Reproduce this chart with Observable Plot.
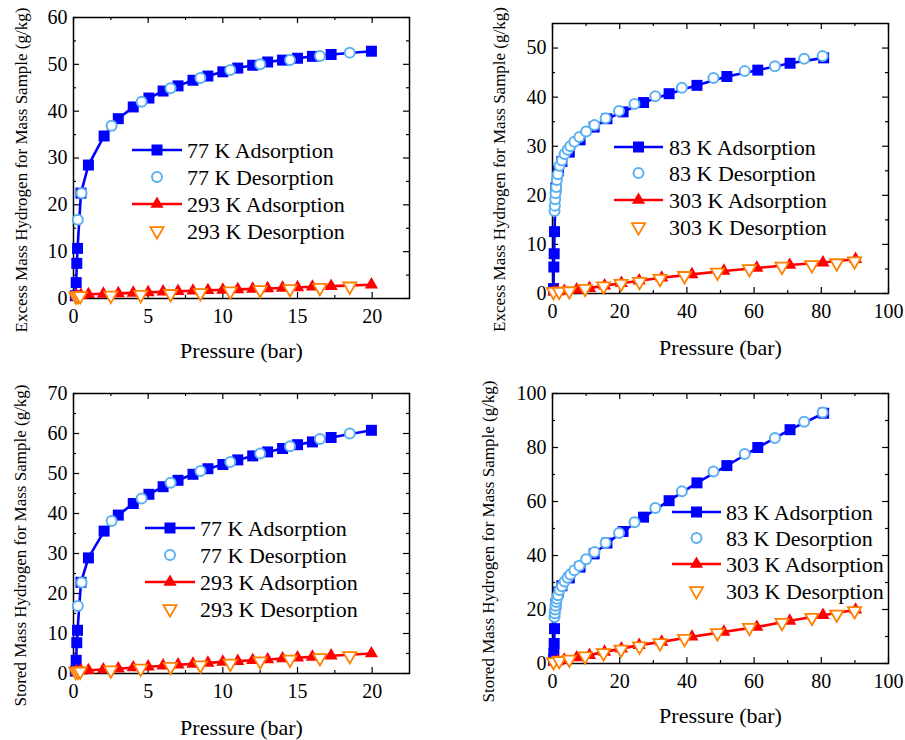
<!DOCTYPE html>
<html><head><meta charset="utf-8">
<script src="https://cdn.jsdelivr.net/npm/d3@7"></script>
<script src="https://cdn.jsdelivr.net/npm/@observablehq/plot@0.6"></script>
<style>
body{margin:0;background:#fff;}
#wrap{position:relative;width:905px;height:740px;font-family:"Liberation Serif",serif;}
.panel{position:absolute;}
#wrap svg text{font-family:"Liberation Serif",serif !important;}
</style></head><body><div id="wrap"></div>
<script>
// ---------- data ----------
// 77 K / 293 K sample (left column)
const p77Ads = [0.12, 0.18, 0.22, 0.27, 0.5, 1.0, 2.05, 3.0, 4.0, 5.05, 6.0, 7.0, 8.0, 9.0, 10.0, 11.0, 12.0, 13.0, 14.0, 15.0, 16.0, 17.25, 19.95];
const excess77Ads = [0.6, 3.4, 7.5, 10.7, 22.5, 28.5, 34.7, 38.4, 40.9, 42.8, 44.3, 45.4, 46.6, 47.5, 48.4, 49.2, 49.8, 50.5, 50.9, 51.3, 51.7, 52.1, 52.8];
const stored77Ads = [0.6, 3.3, 7.7, 10.8, 22.8, 28.9, 35.6, 39.6, 42.5, 44.8, 46.7, 48.3, 49.8, 51.2, 52.25, 53.4, 54.4, 55.4, 56.25, 57.2, 57.9, 59.0, 60.8];
const p77Des = [0.29, 0.54, 2.55, 4.56, 6.5, 8.5, 10.5, 12.5, 14.5, 16.5, 18.5];
const excess77Des = [16.8, 22.5, 36.9, 42.0, 44.9, 47.1, 48.8, 50.0, 50.9, 51.8, 52.5];
const stored77Des = [16.9, 22.75, 38.1, 43.75, 47.7, 50.6, 52.9, 55.0, 56.8, 58.6, 60.0];
const p293Ads = [0.2, 0.5, 1.0, 2.0, 3.0, 4.0, 5.0, 6.0, 7.0, 8.0, 9.0, 10.0, 11.0, 12.0, 13.0, 14.0, 15.0, 16.0, 17.25, 19.95];
const excess293Ads = [0.6, 0.7, 0.9, 1.0, 1.1, 1.2, 1.3, 1.45, 1.55, 1.65, 1.75, 1.85, 1.95, 2.05, 2.15, 2.25, 2.35, 2.5, 2.65, 2.95];
const stored293Ads = [0.6, 0.7, 0.8, 1.0, 1.2, 1.5, 1.7, 1.95, 2.2, 2.4, 2.65, 2.9, 3.1, 3.3, 3.5, 3.75, 3.95, 4.15, 4.45, 5.0];
const p293Des = [0.15, 0.3, 0.45, 2.5, 4.5, 6.5, 8.5, 10.5, 12.5, 14.5, 16.5, 18.5];
const excess293Des = [0.5, 0.5, 0.55, 0.65, 0.8, 1.0, 1.2, 1.55, 1.85, 2.05, 2.3, 2.6];
const stored293Des = [0.5, 0.5, 0.55, 0.83, 1.25, 1.7, 2.1, 2.5, 3.1, 3.5, 3.9, 4.4];

// 83 K / 303 K sample (right column)
const p83Ads = [0.3, 0.4, 0.5, 0.6, 1.0, 1.8, 2.8, 5.0, 8.2, 12.4, 16.2, 21.0, 27.1, 34.7, 43.0, 51.9, 61.1, 70.7, 80.7];
const excess83Ads = [1.0, 5.4, 8.1, 12.6, 21.5, 25.0, 26.9, 28.8, 31.3, 33.9, 35.6, 37.0, 38.9, 40.7, 42.4, 44.2, 45.5, 46.9, 48.0];
const stored83Ads = [1.5, 3.7, 7.4, 12.9, 22.0, 26.5, 28.8, 31.7, 35.7, 40.6, 44.6, 48.9, 54.2, 60.3, 66.9, 73.3, 80.0, 86.6, 92.7];
const p83Des = [0.6, 0.7, 0.8, 0.9, 1.1, 1.3, 1.6, 2.1, 2.8, 3.6, 4.5, 5.3, 6.5, 8.0, 10.0, 12.5, 15.8, 19.8, 24.4, 30.6, 38.5, 47.9, 57.2, 66.2, 74.9, 80.4];
const excess83Des = [16.8, 17.9, 19.2, 20.4, 21.7, 23.1, 24.3, 26.0, 27.1, 28.4, 29.3, 30.0, 30.9, 31.9, 33.0, 34.3, 35.7, 37.2, 38.6, 40.2, 41.9, 43.9, 45.3, 46.3, 47.8, 48.4];
const stored83Des = [17.2, 18.6, 20.0, 21.4, 22.8, 24.0, 25.3, 27.2, 28.6, 30.4, 31.8, 33.0, 34.5, 36.2, 38.6, 41.3, 44.7, 48.3, 52.3, 57.6, 63.8, 71.1, 77.6, 83.5, 89.5, 93.0];
const p303Ads = [0.5, 1.5, 3.5, 7.2, 11.0, 15.5, 20.5, 25.8, 32.5, 41.5, 51.0, 60.8, 70.6, 80.5, 90.2];
const excess303Ads = [0.3, 0.35, 0.5, 0.8, 1.1, 1.6, 2.1, 2.6, 3.2, 3.9, 4.6, 5.2, 5.8, 6.3, 7.0];
const stored303Ads = [0.5, 0.8, 1.3, 2.2, 3.1, 4.3, 5.5, 6.8, 8.0, 9.9, 11.7, 13.5, 15.8, 17.9, 19.9];
const p303Des = [0.3, 2.0, 5.0, 9.7, 15.2, 20.4, 25.9, 32.0, 39.3, 49.1, 58.6, 68.3, 77.2, 84.6, 89.9];
const excess303Des = [0.35, 0.4, 0.5, 1.0, 1.5, 2.0, 2.4, 3.0, 3.6, 4.3, 5.0, 5.5, 5.8, 6.2, 6.6];
const stored303Des = [0.6, 1.0, 1.5, 2.7, 3.9, 5.2, 6.4, 7.6, 9.2, 11.3, 13.3, 15.1, 17.0, 18.2, 19.5];

// labels and ticks
const legend77 = ["77 K Adsorption", "77 K Desorption", "293 K Adsorption", "293 K Desorption"];
const legend83 = ["83 K Adsorption", "83 K Desorption", "303 K Adsorption", "303 K Desorption"];
const xTitle = "Pressure (bar)";
const yTitleExcess = "Excess Mass Hydrogen for Mass Sample (g/kg)";
const yTitleStored = "Stored Mass Hydrogen for Mass Sample (g/kg)";
const xTicksLeft = [0, 5, 10, 15, 20];
const xTicksRight = [0, 20, 40, 60, 80, 100];
const yTicksExcess77 = [0, 10, 20, 30, 40, 50, 60];
const yTicksStored77 = [0, 10, 20, 30, 40, 50, 60, 70];
const yTicksExcess83 = [0, 10, 20, 30, 40, 50];
const yTicksStored83 = [0, 20, 40, 60, 80, 100];

// ---------- styling ----------
const FONT = '"Liberation Serif", serif';
const BLUE = "#0000ff", LIGHTBLUE = "#5ab0f0", RED = "#ff0000", ORANGE = "#ff8000";
const triangleDown = {
  draw(context, size) {
    const y = -Math.sqrt(size / (Math.sqrt(3) * 3));
    context.moveTo(0, -y * 2);
    context.lineTo(-Math.sqrt(3) * y, y);
    context.lineTo(Math.sqrt(3) * y, y);
    context.closePath();
  }
};
const R_SQ = 6.2, R_CI = 5, R_TR = 4.9;
const zip = (xs, ys) => xs.map((x, i) => ({x, y: ys[i]}));
const minorOf = (major) => major.slice(1).map((v, i) => (v + major[i]) / 2);

function panel(cfg) {
  const {left, top, width, height, m, xDomain, yDomain, xTicks, yTicks, yTitle,
         adsA, desA, adsB, desB, labels, leg, xTitleDy, yTitleDx, yTitleDy} = cfg;
  const fw = width - m.left - m.right, fh = height - m.top - m.bottom;
  const xMinor = minorOf(xTicks).filter(v => v < xDomain[1]);
  const yMinor = minorOf(yTicks).concat(yTicks[yTicks.length-1] + (yTicks[1]-yTicks[0])/2).filter(v => v < yDomain[1]);
  const tickMarks = (maj, min, axis) => {
    const out = [];
    for (const [vals, len] of [[maj, 6], [min, 3]]) {
      if (axis === "x") {
        out.push(Plot.ruleX(vals, {x: d => d, insetTop: fh - len, stroke: "black", strokeWidth: 1.2}));
        out.push(Plot.ruleX(vals, {x: d => d, insetBottom: fh - len, stroke: "black", strokeWidth: 1.2}));
      } else {
        out.push(Plot.ruleY(vals, {y: d => d, insetRight: fw - len, stroke: "black", strokeWidth: 1.2}));
        out.push(Plot.ruleY(vals, {y: d => d, insetLeft: fw - len, stroke: "black", strokeWidth: 1.2}));
      }
    }
    return out;
  };
  const svg = Plot.plot({
    width, height,
    marginLeft: m.left, marginRight: m.right, marginTop: m.top, marginBottom: m.bottom,
    style: {fontFamily: FONT, color: "black", background: "white", overflow: "visible"},
    x: {domain: xDomain},
    y: {domain: yDomain},
    marks: [
      Plot.axisX(xTicks, {tickSize: 0, tickPadding: 10, fontSize: 20, label: null, fontFamily: FONT}),
      Plot.axisY(yTicks, {tickSize: 0, tickPadding: 6, fontSize: 20, label: null, fontFamily: FONT}),
      ...tickMarks(xTicks, xMinor, "x"),
      ...tickMarks(yTicks, yMinor, "y"),
      Plot.frame({stroke: "black", strokeWidth: 1.5}),
      Plot.line(adsA, {x: "x", y: "y", stroke: BLUE, strokeWidth: 2.6}),
      Plot.dot(adsA, {x: "x", y: "y", symbol: "square", fill: BLUE, r: R_SQ}),
      Plot.dot(desA, {x: "x", y: "y", symbol: "circle", fill: "white", stroke: LIGHTBLUE, strokeWidth: 2, r: R_CI}),
      Plot.line(adsB, {x: "x", y: "y", stroke: RED, strokeWidth: 2.6}),
      Plot.dot(adsB, {x: "x", y: "y", symbol: "triangle", fill: RED, r: R_TR}),
      Plot.dot(desB, {x: "x", y: "y", symbol: triangleDown, fill: "white", stroke: ORANGE, strokeWidth: 1.8, r: R_TR}),
      Plot.text([xTitle], {text: d => d, frameAnchor: "bottom", dy: xTitleDy, fontSize: 22, fontFamily: FONT, lineAnchor: "middle"}),
      Plot.text([yTitle], {text: d => d, frameAnchor: "left", rotate: -90, dx: yTitleDx, dy: yTitleDy, fontSize: 17, fontFamily: FONT, textAnchor: "middle", lineAnchor: "middle"})
    ]
  });
  // legend
  const g = d3.select(svg).append("g").attr("class", "legend");
  const styles = [
    {line: BLUE, type: d3.symbolSquare, r: R_SQ, fill: BLUE, stroke: "none", sw: 0},
    {line: null, type: d3.symbolCircle, r: R_CI, fill: "white", stroke: LIGHTBLUE, sw: 2},
    {line: RED, type: d3.symbolTriangle, r: R_TR, fill: RED, stroke: "none", sw: 0},
    {line: null, type: triangleDown, r: R_TR, fill: "white", stroke: ORANGE, sw: 1.8}
  ];
  labels.forEach((lab, i) => {
    const s = styles[i], yy = leg.rows[i];
    if (s.line) g.append("line").attr("x1", leg.x1).attr("x2", leg.x2).attr("y1", yy).attr("y2", yy)
      .attr("stroke", s.line).attr("stroke-width", 2.6);
    g.append("path").attr("d", d3.symbol(s.type, Math.PI * s.r * s.r)())
      .attr("transform", `translate(${(leg.x1 + leg.x2) / 2},${yy})`)
      .attr("fill", s.fill).attr("stroke", s.stroke).attr("stroke-width", s.sw);
    g.append("text").attr("x", leg.tx).attr("y", yy).attr("dy", "0.35em")
      .attr("text-anchor", "start").attr("font-family", FONT)
      .attr("font-size", 22).attr("fill", "black").text(lab);
  });
  const div = document.createElement("div");
  div.className = "panel";
  div.style.left = left + "px"; div.style.top = top + "px";
  div.appendChild(svg);
  document.getElementById("wrap").appendChild(div);
}

panel({left: 0, top: 0, width: 450, height: 370, m: {left: 73, right: 41, top: 17, bottom: 72},
  xDomain: [0, 22.5], yDomain: [0, 60], xTicks: xTicksLeft, yTicks: yTicksExcess77, yTitle: yTitleExcess,
  adsA: zip(p77Ads, excess77Ads), desA: zip(p77Des, excess77Des), adsB: zip(p293Ads, excess293Ads), desB: zip(p293Des, excess293Des),
  labels: legend77, leg: {x1: 132, x2: 182, tx: 187, rows: [150, 177, 204, 231]},
  xTitleDy: 52, yTitleDx: -52, yTitleDy: 12});

panel({left: 460, top: 0, width: 445, height: 370, m: {left: 92, right: 17, top: 23, bottom: 77},
  xDomain: [0, 100], yDomain: [0, 55], xTicks: xTicksRight, yTicks: yTicksExcess83, yTitle: yTitleExcess,
  adsA: zip(p83Ads, excess83Ads), desA: zip(p83Des, excess83Des), adsB: zip(p303Ads, excess303Ads), desB: zip(p303Des, excess303Des),
  labels: legend83, leg: {x1: 154, x2: 203, tx: 209, rows: [147, 173, 200, 227]},
  xTitleDy: 54, yTitleDx: -53, yTitleDy: 11});

panel({left: 0, top: 370, width: 450, height: 370, m: {left: 73, right: 41, top: 23, bottom: 67},
  xDomain: [0, 22.5], yDomain: [0, 70], xTicks: xTicksLeft, yTicks: yTicksStored77, yTitle: yTitleStored,
  adsA: zip(p77Ads, stored77Ads), desA: zip(p77Des, stored77Des), adsB: zip(p293Ads, stored293Ads), desB: zip(p293Des, stored293Des),
  labels: legend77, leg: {x1: 145, x2: 195, tx: 200, rows: [158, 185, 212, 239]},
  xTitleDy: 54, yTitleDx: -53, yTitleDy: 12});

panel({left: 460, top: 370, width: 445, height: 370, m: {left: 92, right: 17, top: 23, bottom: 77},
  xDomain: [0, 100], yDomain: [0, 100], xTicks: xTicksRight, yTicks: yTicksStored83, yTitle: yTitleStored,
  adsA: zip(p83Ads, stored83Ads), desA: zip(p83Des, stored83Des), adsB: zip(p303Ads, stored303Ads), desB: zip(p303Des, stored303Des),
  labels: legend83, leg: {x1: 212, x2: 261, tx: 266, rows: [142, 168, 194, 221]},
  xTitleDy: 52, yTitleDx: -64, yTitleDy: 13});
</script></body></html>
